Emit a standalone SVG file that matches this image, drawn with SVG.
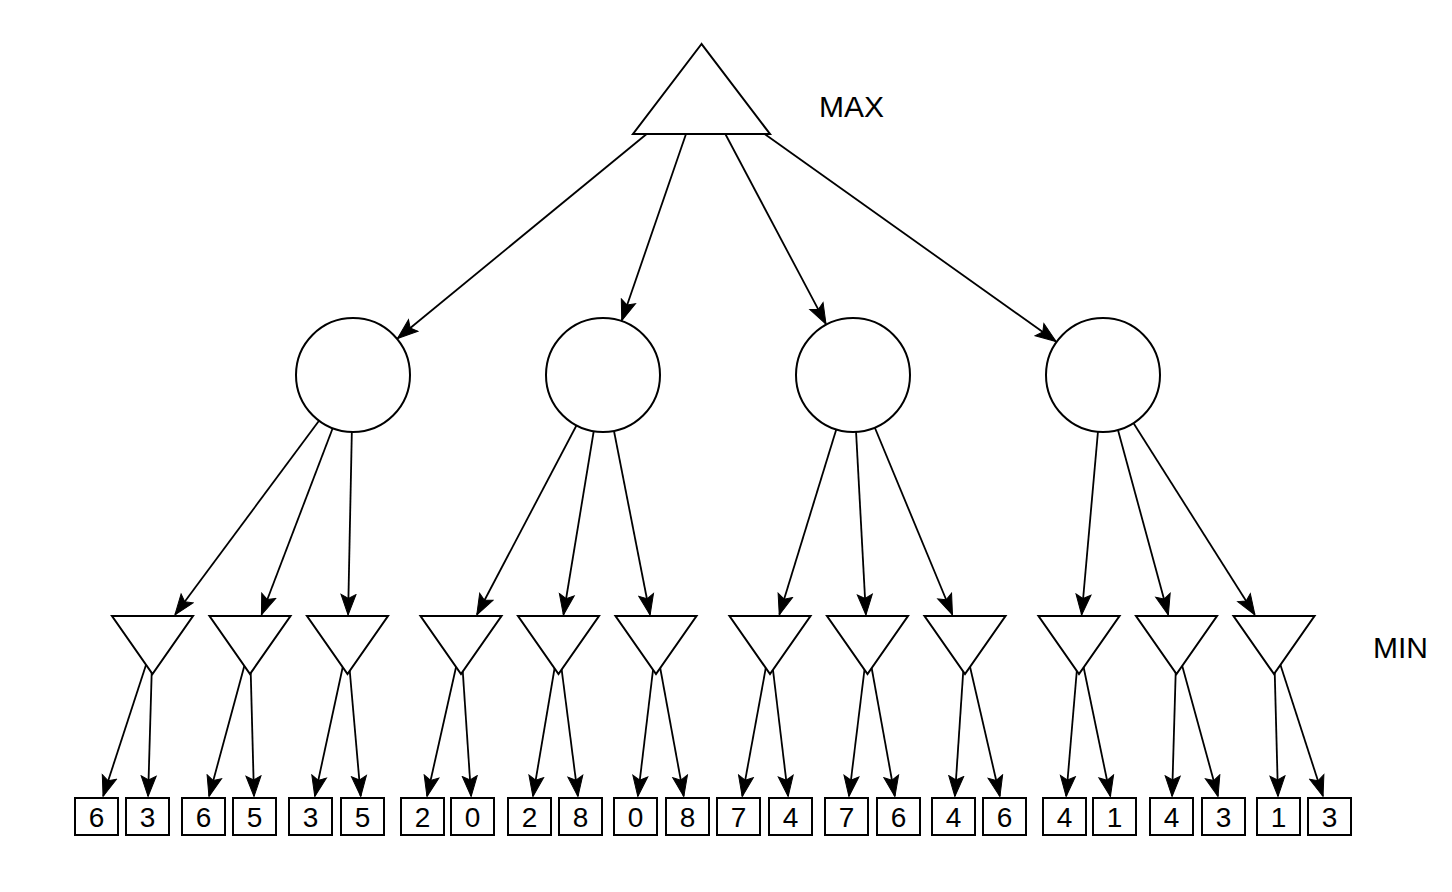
<svg xmlns="http://www.w3.org/2000/svg" width="1452" height="892" viewBox="0 0 1452 892">
  <defs>
    <marker id="arrow" markerUnits="userSpaceOnUse" markerWidth="22" markerHeight="18" viewBox="0 0 22 18" refX="21" refY="9" orient="auto">
      <path d="M1,1.5 L21.5,9 L1,16.5 L5,9 Z" fill="#000" stroke="#000" stroke-width="1" stroke-linejoin="miter"/>
    </marker>
  </defs>
  <style>
    .edge { fill: none; stroke: #000; stroke-width: 1.8; marker-end: url(#arrow); }
    .node { fill: #fff; stroke: #000; stroke-width: 2; }
    .val { font-family: "Liberation Sans", Arial, sans-serif; font-size: 28px; text-anchor: middle; fill: #000; }
    .lvl { font-family: "Liberation Sans", Arial, sans-serif; font-size: 30px; fill: #000; }
  </style>
  <rect width="1452" height="892" fill="#fff"/>

  <!-- edges run centre to centre; node fills drawn afterwards hide the part inside the source -->
  <g id="connectors">
    <!-- root to chance nodes -->
    <path class="edge" d="M701.5,89 L397.8,338.2"/>
    <path class="edge" d="M701.5,89 L621.9,320.2"/>
    <path class="edge" d="M701.5,89 L825.8,323.7"/>
    <path class="edge" d="M701.5,89 L1055.8,341.3"/>
    <!-- chance nodes to MIN nodes -->
    <path class="edge" d="M353,375 L175.2,614.5"/>
    <path class="edge" d="M353,375 L261.6,614.5"/>
    <path class="edge" d="M353,375 L348.1,614.5"/>
    <path class="edge" d="M603,375 L477,614.5"/>
    <path class="edge" d="M603,375 L563.5,614.5"/>
    <path class="edge" d="M603,375 L650,614.5"/>
    <path class="edge" d="M853,375 L779.4,614.5"/>
    <path class="edge" d="M853,375 L865.9,614.5"/>
    <path class="edge" d="M853,375 L952.3,614.5"/>
    <path class="edge" d="M1103,375 L1081.7,614.5"/>
    <path class="edge" d="M1103,375 L1168.2,614.5"/>
    <path class="edge" d="M1103,375 L1254.7,614.5"/>
    <!-- MIN nodes to leaves -->
    <path class="edge" d="M152.5,645 L103.2,796"/>
    <path class="edge" d="M152.5,645 L148.1,796"/>
    <path class="edge" d="M250,645 L209.1,796"/>
    <path class="edge" d="M250,645 L254,796"/>
    <path class="edge" d="M347.5,645 L314.9,796"/>
    <path class="edge" d="M347.5,645 L360.7,796"/>
    <path class="edge" d="M461,645 L427.1,796"/>
    <path class="edge" d="M461,645 L471.1,796"/>
    <path class="edge" d="M558.5,645 L533,796"/>
    <path class="edge" d="M558.5,645 L577.9,796"/>
    <path class="edge" d="M656,645 L637.9,796"/>
    <path class="edge" d="M656,645 L683.7,796"/>
    <path class="edge" d="M770,645 L742.3,796"/>
    <path class="edge" d="M770,645 L788.1,796"/>
    <path class="edge" d="M867.5,645 L849,796"/>
    <path class="edge" d="M867.5,645 L894.8,796"/>
    <path class="edge" d="M965,645 L954.9,796"/>
    <path class="edge" d="M965,645 L999.8,796"/>
    <path class="edge" d="M1079,645 L1066.2,796"/>
    <path class="edge" d="M1079,645 L1110.3,796"/>
    <path class="edge" d="M1176.5,645 L1172.1,796"/>
    <path class="edge" d="M1176.5,645 L1217.9,796"/>
    <path class="edge" d="M1274,645 L1278,796"/>
    <path class="edge" d="M1274,645 L1322.9,796"/>
  </g>

  <!-- MAX root -->
  <g id="root"><polygon class="node" points="701.5,44 633,134 770,134"/></g>

  <!-- chance nodes -->
  <g id="chance-1"><circle class="node" cx="353" cy="375" r="57"/></g>
  <g id="chance-2"><circle class="node" cx="603" cy="375" r="57"/></g>
  <g id="chance-3"><circle class="node" cx="853" cy="375" r="57"/></g>
  <g id="chance-4"><circle class="node" cx="1103" cy="375" r="57"/></g>

  <!-- MIN nodes -->
  <g id="min-1"><polygon class="node" points="112,616 193,616 152.5,674"/></g>
  <g id="min-2"><polygon class="node" points="209.5,616 290.5,616 250,674"/></g>
  <g id="min-3"><polygon class="node" points="307,616 388,616 347.5,674"/></g>
  <g id="min-4"><polygon class="node" points="420.5,616 501.5,616 461,674"/></g>
  <g id="min-5"><polygon class="node" points="518,616 599,616 558.5,674"/></g>
  <g id="min-6"><polygon class="node" points="615.5,616 696.5,616 656,674"/></g>
  <g id="min-7"><polygon class="node" points="729.5,616 810.5,616 770,674"/></g>
  <g id="min-8"><polygon class="node" points="827,616 908,616 867.5,674"/></g>
  <g id="min-9"><polygon class="node" points="924.5,616 1005.5,616 965,674"/></g>
  <g id="min-10"><polygon class="node" points="1038.5,616 1119.5,616 1079,674"/></g>
  <g id="min-11"><polygon class="node" points="1136,616 1217,616 1176.5,674"/></g>
  <g id="min-12"><polygon class="node" points="1233.5,616 1314.5,616 1274,674"/></g>

  <!-- leaves -->
  <g id="leaf-1"><rect class="node" x="75" y="798" width="43" height="37"/><text class="val" x="96.5" y="826.5">6</text></g>
  <g id="leaf-2"><rect class="node" x="126" y="798" width="43" height="37"/><text class="val" x="147.5" y="826.5">3</text></g>
  <g id="leaf-3"><rect class="node" x="182" y="798" width="43" height="37"/><text class="val" x="203.5" y="826.5">6</text></g>
  <g id="leaf-4"><rect class="node" x="233" y="798" width="43" height="37"/><text class="val" x="254.5" y="826.5">5</text></g>
  <g id="leaf-5"><rect class="node" x="289" y="798" width="43" height="37"/><text class="val" x="310.5" y="826.5">3</text></g>
  <g id="leaf-6"><rect class="node" x="341" y="798" width="43" height="37"/><text class="val" x="362.5" y="826.5">5</text></g>
  <g id="leaf-7"><rect class="node" x="401" y="798" width="43" height="37"/><text class="val" x="422.5" y="826.5">2</text></g>
  <g id="leaf-8"><rect class="node" x="451" y="798" width="43" height="37"/><text class="val" x="472.5" y="826.5">0</text></g>
  <g id="leaf-9"><rect class="node" x="508" y="798" width="43" height="37"/><text class="val" x="529.5" y="826.5">2</text></g>
  <g id="leaf-10"><rect class="node" x="559" y="798" width="43" height="37"/><text class="val" x="580.5" y="826.5">8</text></g>
  <g id="leaf-11"><rect class="node" x="614" y="798" width="43" height="37"/><text class="val" x="635.5" y="826.5">0</text></g>
  <g id="leaf-12"><rect class="node" x="666" y="798" width="43" height="37"/><text class="val" x="687.5" y="826.5">8</text></g>
  <g id="leaf-13"><rect class="node" x="717" y="798" width="43" height="37"/><text class="val" x="738.5" y="826.5">7</text></g>
  <g id="leaf-14"><rect class="node" x="769" y="798" width="43" height="37"/><text class="val" x="790.5" y="826.5">4</text></g>
  <g id="leaf-15"><rect class="node" x="825" y="798" width="43" height="37"/><text class="val" x="846.5" y="826.5">7</text></g>
  <g id="leaf-16"><rect class="node" x="877" y="798" width="43" height="37"/><text class="val" x="898.5" y="826.5">6</text></g>
  <g id="leaf-17"><rect class="node" x="932" y="798" width="43" height="37"/><text class="val" x="953.5" y="826.5">4</text></g>
  <g id="leaf-18"><rect class="node" x="983" y="798" width="43" height="37"/><text class="val" x="1004.5" y="826.5">6</text></g>
  <g id="leaf-19"><rect class="node" x="1043" y="798" width="43" height="37"/><text class="val" x="1064.5" y="826.5">4</text></g>
  <g id="leaf-20"><rect class="node" x="1093" y="798" width="43" height="37"/><text class="val" x="1114.5" y="826.5">1</text></g>
  <g id="leaf-21"><rect class="node" x="1150" y="798" width="43" height="37"/><text class="val" x="1171.5" y="826.5">4</text></g>
  <g id="leaf-22"><rect class="node" x="1202" y="798" width="43" height="37"/><text class="val" x="1223.5" y="826.5">3</text></g>
  <g id="leaf-23"><rect class="node" x="1257" y="798" width="43" height="37"/><text class="val" x="1278.5" y="826.5">1</text></g>
  <g id="leaf-24"><rect class="node" x="1308" y="798" width="43" height="37"/><text class="val" x="1329.5" y="826.5">3</text></g>

  <!-- level labels -->
  <g id="label-max"><text class="lvl" x="819" y="117">MAX</text></g>
  <g id="label-min"><text class="lvl" x="1373" y="658">MIN</text></g>
</svg>
